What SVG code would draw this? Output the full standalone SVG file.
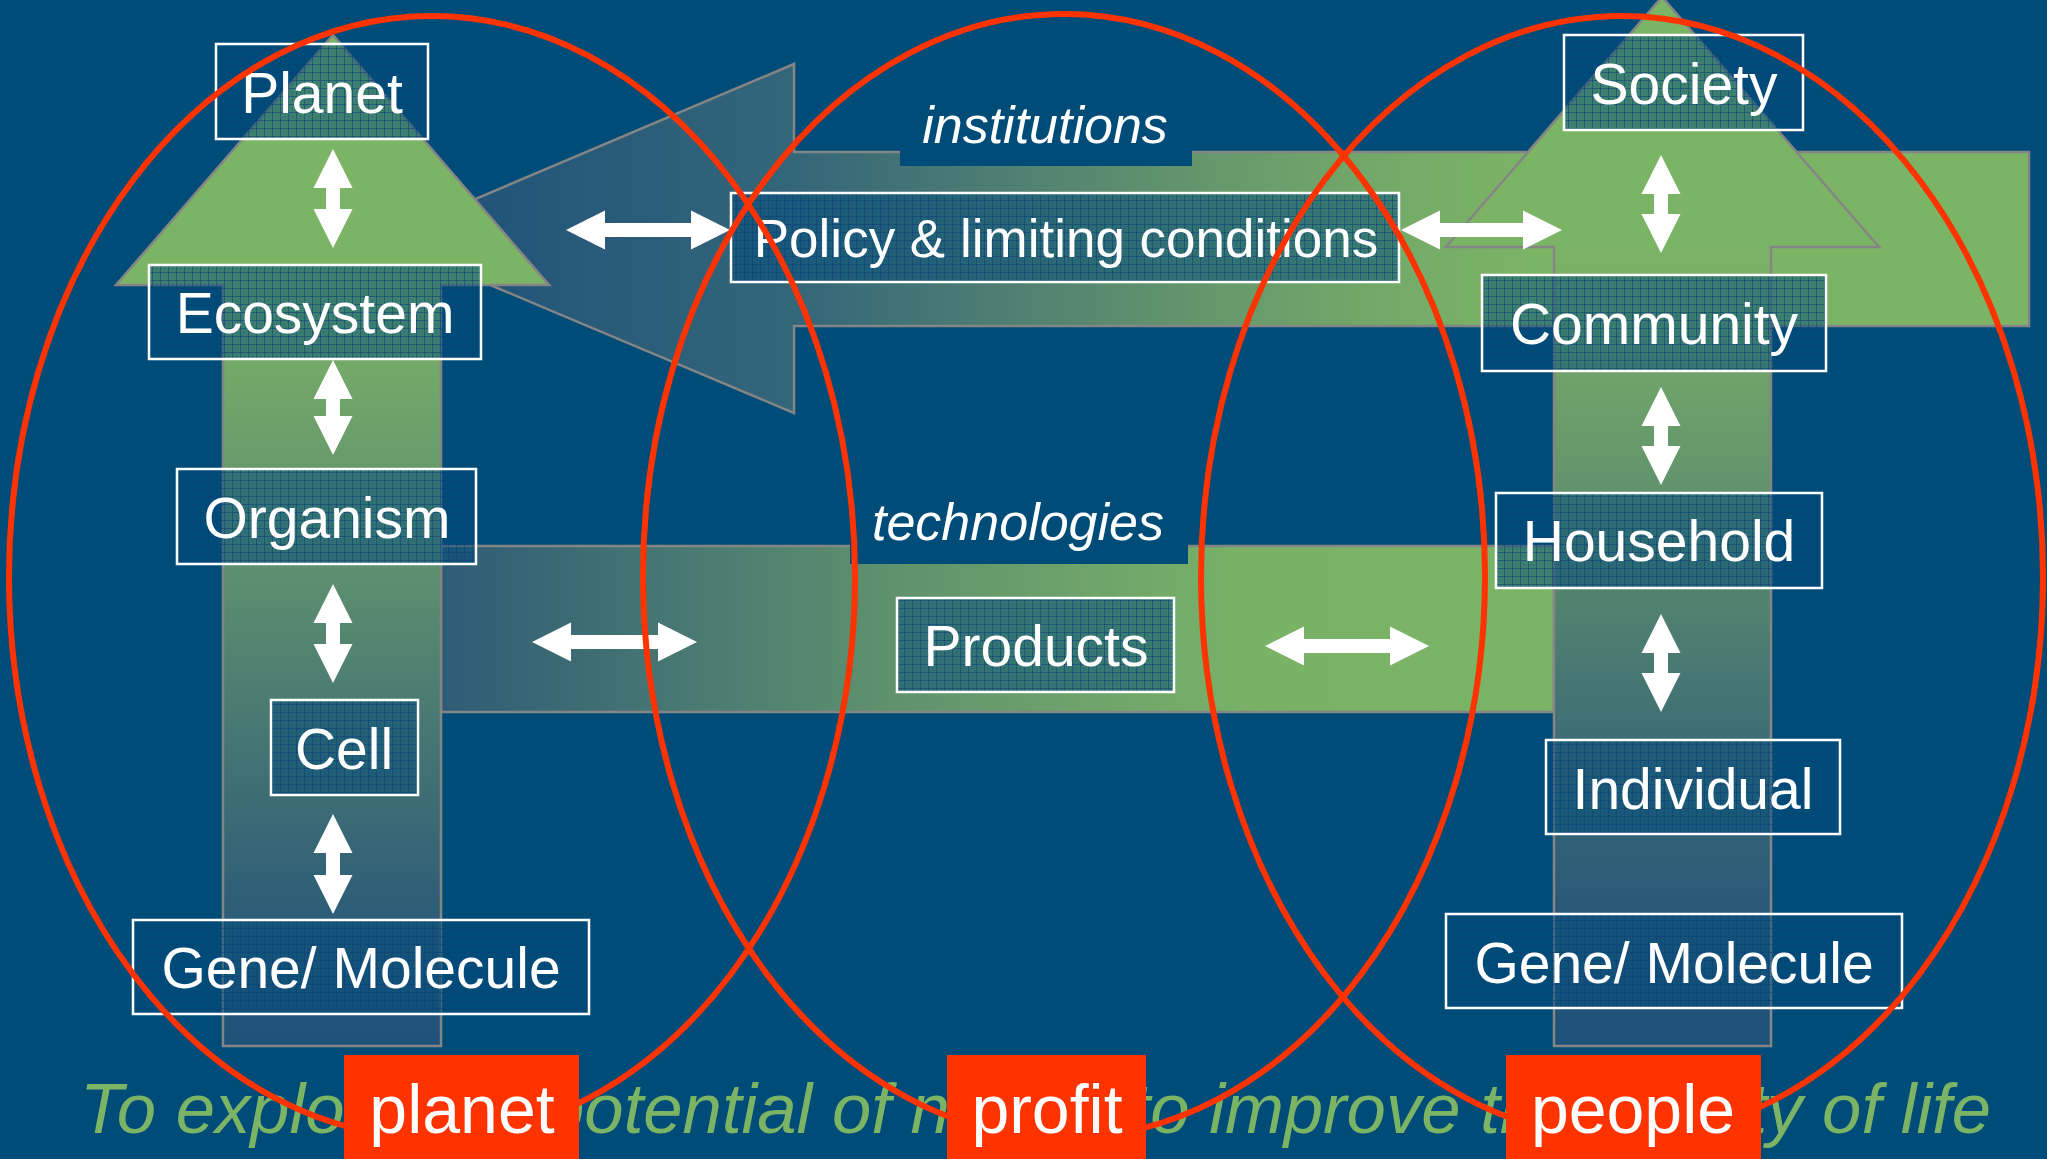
<svg xmlns="http://www.w3.org/2000/svg" width="2047" height="1159" viewBox="0 0 2047 1159">
<defs>
<style>
.t{font-family:"Liberation Sans",Arial,sans-serif;fill:#fff;text-anchor:middle}
.n{font-size:57px}
.pol{font-size:53px}
.it{font-size:52px;font-style:italic}
.lbl{font-size:68px}
.sent{font-family:"Liberation Sans",Arial,sans-serif;font-size:70.7px;font-style:italic;fill:#7cb466}
.box{fill:url(#grid);stroke:#fff;stroke-width:2.5}
.arr{stroke:#858585;stroke-width:2.5}
.dbl{fill:#fff}
.ell{fill:none;stroke:#ff3300;stroke-width:6}
.red{fill:#ff3300}
.lbg{fill:#004c79}
</style>
<pattern id="grid" patternUnits="userSpaceOnUse" width="8" height="8">
<rect width="8" height="8" fill="#004c79" fill-opacity="0.5"/>
<path d="M0,0.5H8M0.5,0V8" stroke="#0a3f78" stroke-opacity="0.55" stroke-width="1"/>
<rect x="4" y="4" width="1" height="1" fill="#0a3f78" fill-opacity="0.5"/>
</pattern>
<linearGradient id="gPolicy" gradientUnits="userSpaceOnUse" x1="381" y1="0" x2="2029" y2="0">
<stop offset="0" stop-color="#1d4f79"/>
<stop offset="0.06" stop-color="#225479"/>
<stop offset="0.25" stop-color="#34667a"/>
<stop offset="0.38" stop-color="#4f7f72"/>
<stop offset="0.5" stop-color="#65976c"/>
<stop offset="0.62" stop-color="#75ab68"/>
<stop offset="0.7" stop-color="#7cb466"/>
<stop offset="1" stop-color="#7cb466"/>
</linearGradient>
<linearGradient id="gTech" gradientUnits="userSpaceOnUse" x1="441" y1="0" x2="1554" y2="0">
<stop offset="0" stop-color="#2e5c77"/>
<stop offset="0.23" stop-color="#4a7a72"/>
<stop offset="0.41" stop-color="#60926d"/>
<stop offset="0.59" stop-color="#6fa46a"/>
<stop offset="0.73" stop-color="#79b267"/>
<stop offset="1" stop-color="#7cb466"/>
</linearGradient>
<linearGradient id="gLeft" gradientUnits="userSpaceOnUse" x1="0" y1="35" x2="0" y2="1046">
<stop offset="0" stop-color="#7cb466"/>
<stop offset="0.247" stop-color="#7cb466"/>
<stop offset="0.41" stop-color="#6a9d6b"/>
<stop offset="0.559" stop-color="#5a8b6f"/>
<stop offset="0.707" stop-color="#447473"/>
<stop offset="0.856" stop-color="#2f5f77"/>
<stop offset="1" stop-color="#1f5179"/>
</linearGradient>
<linearGradient id="gRight" gradientUnits="userSpaceOnUse" x1="0" y1="-3" x2="0" y2="1046">
<stop offset="0" stop-color="#7cb466"/>
<stop offset="0.238" stop-color="#7cb466"/>
<stop offset="0.43" stop-color="#67996c"/>
<stop offset="0.575" stop-color="#52826f"/>
<stop offset="0.72" stop-color="#3c6c75"/>
<stop offset="0.862" stop-color="#2a5a78"/>
<stop offset="1" stop-color="#1e5179"/>
</linearGradient>
</defs>
<rect width="2047" height="1159" fill="#004c79"/>

<g id="arrows-background">
<rect id="technologies-band" class="arr" x="441" y="546" width="1113" height="166" fill="url(#gTech)"/>
<path id="policy-arrow" class="arr" d="M381,239 L794,64 L794,152 L2029,152 L2029,326 L794,326 L794,413 Z" fill="url(#gPolicy)"/>
<path id="planet-arrow" class="arr" d="M333,35 L549,285 L441,285 L441,1046 L223,1046 L223,285 L116,285 Z" fill="url(#gLeft)"/>
<path id="people-arrow" class="arr" d="M1662,-3 L1879,247 L1771,247 L1771,1046 L1554,1046 L1554,247 L1446,247 Z" fill="url(#gRight)"/>
</g>

<g id="label-institutions">
<rect class="lbg" x="900" y="100" width="292" height="66"/>
<text class="t it" x="1045" y="143">institutions</text>
</g>
<g id="label-technologies">
<rect class="lbg" x="850" y="500" width="338" height="64"/>
<text class="t it" x="1018" y="540">technologies</text>
</g>

<g id="node-planet"><rect class="box" x="216" y="44" width="212" height="95"/><text class="t n" x="322" y="113">Planet</text></g>
<g id="node-ecosystem"><rect class="box" x="149" y="265" width="332" height="94"/><text class="t n" x="315" y="333">Ecosystem</text></g>
<g id="node-organism"><rect class="box" x="177" y="469" width="299" height="95"/><text class="t n" x="327" y="538">Organism</text></g>
<g id="node-cell"><rect class="box" x="271" y="700" width="147" height="95"/><text class="t n" x="344" y="769">Cell</text></g>
<g id="node-gene-left"><rect class="box" x="133" y="920" width="456" height="94"/><text class="t n" x="361" y="988">Gene/ Molecule</text></g>
<g id="node-policy"><rect class="box" x="731" y="193" width="668" height="89"/><text class="t pol" x="1066" y="257">Policy &amp; limiting conditions</text></g>
<g id="node-products"><rect class="box" x="897" y="598" width="277" height="94"/><text class="t n" x="1036" y="666">Products</text></g>
<g id="node-society"><rect class="box" x="1564" y="35" width="239" height="95"/><text class="t n" x="1684" y="104">Society</text></g>
<g id="node-community"><rect class="box" x="1482" y="275" width="344" height="96"/><text class="t n" x="1654" y="344">Community</text></g>
<g id="node-household"><rect class="box" x="1496" y="493" width="326" height="95"/><text class="t n" x="1659" y="561">Household</text></g>
<g id="node-individual"><rect class="box" x="1546" y="740" width="294" height="94"/><text class="t n" x="1693" y="809">Individual</text></g>
<g id="node-gene-right"><rect class="box" x="1446" y="914" width="456" height="94"/><text class="t n" x="1674" y="983">Gene/ Molecule</text></g>

<g id="connectors">
<path class="dbl" d="M566,230 L605,210.5 L605,223 L691,223 L691,210.5 L730,230 L691,249.5 L691,237 L605,237 L605,249.5 Z"/>
<path class="dbl" d="M1401,230 L1440,210.5 L1440,223 L1523,223 L1523,210.5 L1562,230 L1523,249.5 L1523,237 L1440,237 L1440,249.5 Z"/>
<path class="dbl" d="M532,642 L571,622.5 L571,635 L658,635 L658,622.5 L697,642 L658,661.5 L658,649 L571,649 L571,661.5 Z"/>
<path class="dbl" d="M1265,646 L1304,626.5 L1304,639 L1390,639 L1390,626.5 L1429,646 L1390,665.5 L1390,653 L1304,653 L1304,665.5 Z"/>
<path class="dbl" d="M333,149 L352.5,188 L340,188 L340,209 L352.5,209 L333,248 L313.5,209 L326,209 L326,188 L313.5,188 Z"/>
<path class="dbl" d="M333,360 L352.5,399 L340,399 L340,416 L352.5,416 L333,455 L313.5,416 L326,416 L326,399 L313.5,399 Z"/>
<path class="dbl" d="M333,584 L352.5,623 L340,623 L340,644 L352.5,644 L333,683 L313.5,644 L326,644 L326,623 L313.5,623 Z"/>
<path class="dbl" d="M333,814 L352.5,853 L340,853 L340,875 L352.5,875 L333,914 L313.5,875 L326,875 L326,853 L313.5,853 Z"/>
<path class="dbl" d="M1661,155 L1680.5,194 L1668,194 L1668,214 L1680.5,214 L1661,253 L1641.5,214 L1654,214 L1654,194 L1641.5,194 Z"/>
<path class="dbl" d="M1661,387 L1680.5,426 L1668,426 L1668,446 L1680.5,446 L1661,485 L1641.5,446 L1654,446 L1654,426 L1641.5,426 Z"/>
<path class="dbl" d="M1661,614 L1680.5,653 L1668,653 L1668,673 L1680.5,673 L1661,712 L1641.5,673 L1654,673 L1654,653 L1641.5,653 Z"/>
</g>

<text class="sent" x="80" y="1133">To explore the potential of nature to improve the quality of life</text>

<g id="circles">
<ellipse class="ell" cx="432" cy="577" rx="423" ry="561"/>
<ellipse class="ell" cx="1064" cy="576" rx="421" ry="562"/>
<ellipse class="ell" cx="1622" cy="577" rx="421" ry="561"/>
</g>

<g id="label-planet"><rect class="red" x="344" y="1055" width="235" height="104"/><text class="t lbl" x="462" y="1133">planet</text></g>
<g id="label-profit"><rect class="red" x="947" y="1055" width="199" height="104"/><text class="t lbl" x="1047" y="1133">profit</text></g>
<g id="label-people"><rect class="red" x="1506" y="1055" width="255" height="104"/><text class="t lbl" x="1633" y="1133">people</text></g>
</svg>
